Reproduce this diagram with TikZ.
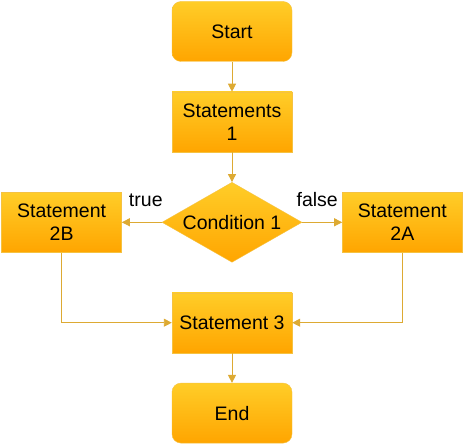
\documentclass[tikz,border=0pt]{standalone}
\usepackage{fontspec}
\setmainfont{Liberation Sans}
\usepackage{tikz}
\usetikzlibrary{shapes.geometric, arrows.meta, positioning}

\definecolor{boxtop}{HTML}{FFCD28}
\definecolor{boxbottom}{HTML}{FFA500}
\definecolor{boxline}{HTML}{F5C242}
\definecolor{linkline}{HTML}{DDAA33}

\begin{document}
\begin{tikzpicture}[
    x=1pt, y=1pt,
    node distance=30pt,
    every node/.style={font=\fontsize{19.5}{23}\selectfont},
    terminal/.style={rectangle, rounded corners=9pt, minimum width=120pt, minimum height=60pt, text centered, draw=boxline, top color=boxtop, bottom color=boxbottom, align=center},
    stmt/.style={rectangle, minimum width=120pt, minimum height=60pt, text centered, draw=boxline, top color=boxtop, bottom color=boxbottom, align=center, inner sep=2pt},
    cond/.style={diamond, aspect=1.75, minimum width=140pt, minimum height=80pt, inner sep=0pt, text centered, draw=boxline, top color=boxtop, bottom color=boxbottom},
    arrow/.style={draw=linkline, line width=0.9pt, -{Triangle[length=8pt, width=8pt]}}
]

\useasboundingbox (0,0) rectangle (464,-444);

\node[terminal] (start) at (232,-31.5) {Start};
\node[stmt, below=of start] (stmts1) {Statements\\1};
\node[cond, below=of stmts1] (cond1) {Condition 1};
\node[stmt, left=40pt of cond1] (stmt2b) {Statement\\2B};
\node[stmt, right=40pt of cond1] (stmt2a) {Statement\\2A};
\node[stmt, below=of cond1] (stmt3) {Statement 3};
\node[terminal, below=of stmt3] (finish) {End};

% Connectors
\draw[arrow] (start.south) -- (stmts1.north);
\draw[arrow] (stmts1.south) -- (cond1.north);
\draw[arrow] (cond1.west) -- node[above=12pt, xshift=4pt, black] {true} (stmt2b.east);
\draw[arrow] (cond1.east) -- node[above=12pt, xshift=-5pt, black] {false} (stmt2a.west);
\draw[arrow] (stmt2b.south) |- (stmt3.west);
\draw[arrow] (stmt2a.south) |- (stmt3.east);
\draw[arrow] (stmt3.south) -- (finish.north);

\end{tikzpicture}
\end{document}
